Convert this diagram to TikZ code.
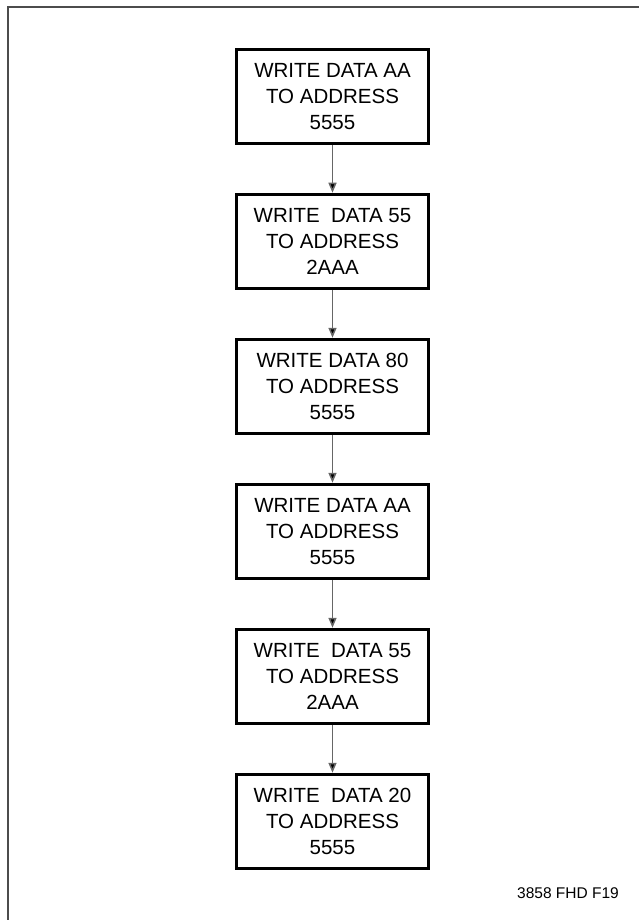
\documentclass[tikz,border=0pt]{standalone}
\usepackage{fontspec}
\setmainfont{Liberation Sans}
\usetikzlibrary{arrows.meta}
\begin{document}
\begin{tikzpicture}[x=1pt,y=-1pt,
  stepbox/.style={draw, line width=3.5pt, minimum width=192pt, minimum height=94pt,
    align=center, font=\fontsize{20.5}{26}\selectfont, inner sep=0pt},
  flow/.style={draw=black!60, line width=1.5pt, -{Triangle[length=10pt,width=8pt,fill=black]}},
  frame/.style={draw=black!70, line width=2pt}]
\useasboundingbox (0,0) rectangle (638,920);
\draw[frame] (7.5,930) -- (7.5,7.5) -- (650,7.5);
\node[stepbox] (s1) at (332.5,96.5) {WRITE DATA AA\\TO ADDRESS\\5555};
\node[stepbox] (s2) at (332.5,241.5) {WRITE\ \ DATA 55\\TO ADDRESS\\2AAA};
\node[stepbox] (s3) at (332.5,386.5) {WRITE DATA 80\\TO ADDRESS\\5555};
\node[stepbox] (s4) at (332.5,531.5) {WRITE DATA AA\\TO ADDRESS\\5555};
\node[stepbox] (s5) at (332.5,676.5) {WRITE\ \ DATA 55\\TO ADDRESS\\2AAA};
\node[stepbox] (s6) at (332.5,821.5) {WRITE\ \ DATA 20\\TO ADDRESS\\5555};
\draw[flow] (s1) -- (s2);
\draw[flow] (s2) -- (s3);
\draw[flow] (s3) -- (s4);
\draw[flow] (s4) -- (s5);
\draw[flow] (s5) -- (s6);
\node[anchor=east, font=\fontsize{15.5}{17}\selectfont, inner sep=0pt] (lbl) at (619,893) {3858 FHD F19};
\end{tikzpicture}
\end{document}
